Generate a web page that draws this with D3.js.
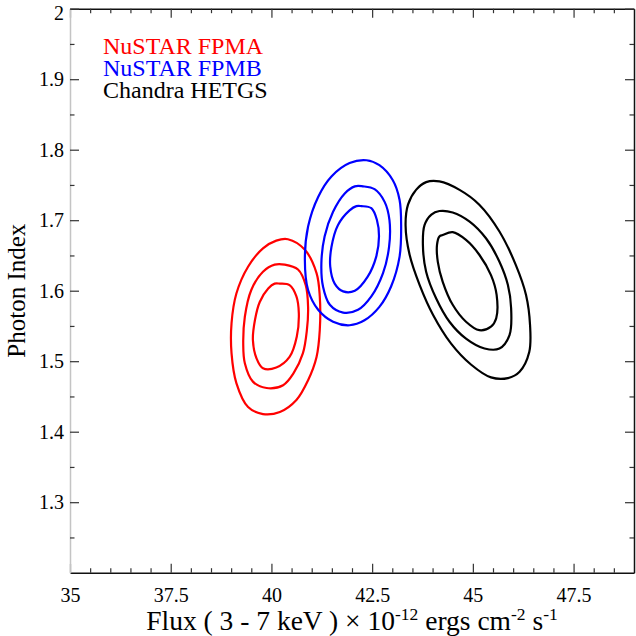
<!DOCTYPE html>
<html lang="en">
<head>
    <meta charset="UTF-8">
    <title>Flux vs Photon Index contours</title>
    <script src="https://d3js.org/d3.v7.min.js"></script>
    <style>
        body { margin: 0; background: #fff; }
        svg { display: block; }
        svg text { font-family: "Liberation Serif", "DejaVu Serif", "Times New Roman", Times, serif; fill: #000; }
        .tick text { font-size: 20px; }
    </style>
</head>
<body>
    <svg width="636" height="636"></svg>

    <script>
        // Data (flux in 1e-12 erg/cm2/s, photon index)
        const seriesNames = ["NuSTAR FPMA", "NuSTAR FPMB", "Chandra HETGS"];
        const seriesColors = ["#ff0000", "#0000ff", "#000000"];

        // three confidence levels per instrument, inner to outer
        const fpmaInner = [[40.21,1.610],[40.45,1.608],[40.62,1.592],[40.68,1.568],[40.63,1.535],[40.45,1.506],[40.12,1.491],[39.79,1.490],[39.63,1.504],[39.54,1.530],[39.59,1.558],[39.71,1.584],[39.92,1.603],[40.08,1.610]];
        const fpmaMiddle = [[40.33,1.637],[40.66,1.630],[40.85,1.608],[40.91,1.577],[40.88,1.544],[40.78,1.511],[40.55,1.483],[40.29,1.466],[39.88,1.462],[39.54,1.471],[39.34,1.497],[39.30,1.525],[39.34,1.563],[39.50,1.601],[39.79,1.627],[40.08,1.637]];
        const fpmaOuter = [[40.41,1.673],[40.83,1.658],[41.12,1.625],[41.20,1.592],[41.20,1.544],[41.12,1.506],[40.91,1.473],[40.62,1.445],[40.21,1.428],[39.79,1.425],[39.42,1.435],[39.13,1.469],[39.01,1.511],[39.01,1.554],[39.13,1.596],[39.42,1.634],[39.79,1.660],[40.12,1.671]];

        const fpmbInner = [[42.23,1.720],[42.48,1.717],[42.62,1.700],[42.67,1.677],[42.60,1.648],[42.39,1.620],[42.07,1.600],[41.78,1.599],[41.57,1.610],[41.46,1.634],[41.49,1.662],[41.65,1.693],[41.94,1.714],[42.11,1.720]];
        const fpmbMiddle = [[42.27,1.748],[42.56,1.744],[42.81,1.726],[42.93,1.700],[42.92,1.662],[42.77,1.625],[42.48,1.592],[42.15,1.573],[41.78,1.569],[41.45,1.580],[41.28,1.606],[41.24,1.639],[41.32,1.677],[41.53,1.712],[41.82,1.738],[42.07,1.748]];
        const fpmbOuter = [[42.36,1.785],[42.68,1.778],[43.01,1.757],[43.18,1.729],[43.22,1.691],[43.18,1.648],[42.97,1.606],[42.68,1.577],[42.31,1.558],[41.94,1.551],[41.53,1.556],[41.16,1.573],[40.91,1.601],[40.83,1.644],[40.91,1.691],[41.16,1.733],[41.49,1.762],[41.94,1.781]];

        const hetgsInner = [[44.25,1.679],[44.50,1.683],[44.83,1.672],[45.16,1.651],[45.45,1.622],[45.59,1.594],[45.58,1.561],[45.45,1.549],[45.16,1.544],[44.83,1.556],[44.50,1.580],[44.25,1.613],[44.13,1.641],[44.11,1.665],[44.17,1.677]];
        const hetgsMiddle = [[44.17,1.713],[44.50,1.711],[44.92,1.698],[45.33,1.674],[45.66,1.641],[45.87,1.608],[45.95,1.575],[45.91,1.537],[45.66,1.518],[45.29,1.518],[44.83,1.532],[44.42,1.556],[44.09,1.589],[43.84,1.627],[43.76,1.665],[43.80,1.693],[43.97,1.708]];
        const hetgsOuter = [[43.84,1.754],[44.17,1.755],[44.67,1.743],[45.16,1.722],[45.66,1.684],[46.07,1.636],[46.32,1.594],[46.42,1.551],[46.40,1.513],[46.16,1.485],[45.87,1.476],[45.45,1.477],[44.96,1.495],[44.46,1.525],[44.01,1.566],[43.68,1.608],[43.43,1.651],[43.33,1.693],[43.39,1.722],[43.59,1.743]];

        const xTicks = [35, 37.5, 40, 42.5, 45, 47.5];
        const xTickLabels = ["35", "37.5", "40", "42.5", "45", "47.5"];
        const yTicks = [1.3, 1.4, 1.5, 1.6, 1.7, 1.8, 1.9, 2.0];
        const yTickLabels = ["1.3", "1.4", "1.5", "1.6", "1.7", "1.8", "1.9", "2"];
        const xMinor = [35.5, 36, 36.5, 37, 38, 38.5, 39, 39.5, 40.5, 41, 41.5, 42, 43, 43.5, 44, 44.5, 45.5, 46, 46.5, 47, 48, 48.5];
        const yMinor = [1.25, 1.35, 1.45, 1.55, 1.65, 1.75, 1.85, 1.95];

        const contours = [
            { series: 0, points: fpmaInner }, { series: 0, points: fpmaMiddle }, { series: 0, points: fpmaOuter },
            { series: 1, points: fpmbInner }, { series: 1, points: fpmbMiddle }, { series: 1, points: fpmbOuter },
            { series: 2, points: hetgsInner }, { series: 2, points: hetgsMiddle }, { series: 2, points: hetgsOuter }
        ];

        const width = 636;
        const height = 636;
        const margin = { top: 8.7, right: 2, bottom: 63.3, left: 70 };

        const svg = d3.select("svg");

        const x = d3.scaleLinear()
            .domain([35, 49])
            .range([margin.left, width - margin.right]);

        const y = d3.scaleLinear()
            .domain([1.2, 2.0])
            .range([height - margin.bottom, margin.top]);

        const major = 9, minor = 4.5;

        // bottom axis (labels, inward ticks)
        const gx = svg.append("g")
            .attr("transform", `translate(0, ${y(1.2)})`)
            .call(d3.axisBottom(x).tickValues(xTicks)
                .tickFormat((d, i) => xTickLabels[i])
                .tickSize(-major).tickSizeOuter(0).tickPadding(15));
        gx.append("g").attr("class", "minor")
            .call(d3.axisBottom(x).tickValues(xMinor).tickFormat("").tickSize(-minor).tickSizeOuter(0));

        // top axis
        const gxt = svg.append("g")
            .attr("transform", `translate(0, ${y(2.0)})`)
            .call(d3.axisTop(x).tickValues(xTicks).tickFormat("").tickSize(-major).tickSizeOuter(0));
        gxt.append("g").attr("class", "minor")
            .call(d3.axisTop(x).tickValues(xMinor).tickFormat("").tickSize(-minor).tickSizeOuter(0));

        // left axis
        const gy = svg.append("g")
            .attr("transform", `translate(${x(35)}, 0)`)
            .call(d3.axisLeft(y).tickValues(yTicks)
                .tickFormat((d, i) => yTickLabels[i])
                .tickSize(-major).tickSizeOuter(0).tickPadding(6));
        gy.append("g").attr("class", "minor")
            .call(d3.axisLeft(y).tickValues(yMinor).tickFormat("").tickSize(-minor).tickSizeOuter(0));
        // top label sits just inside the figure
        gy.selectAll(".tick text").filter(d => d === 2.0).attr("dy", "0.55em");

        // right axis
        const gyr = svg.append("g")
            .attr("transform", `translate(${x(49)}, 0)`)
            .call(d3.axisRight(y).tickValues(yTicks).tickFormat("").tickSize(-major).tickSizeOuter(0));
        gyr.append("g").attr("class", "minor")
            .call(d3.axisRight(y).tickValues(yMinor).tickFormat("").tickSize(-minor).tickSizeOuter(0));

        svg.selectAll(".domain").attr("stroke", "#111").attr("stroke-width", 1.5);
        svg.selectAll(".minor .domain").attr("stroke", "none");
        gy.select(".domain").attr("stroke", "#c4c4c4");
        svg.selectAll(".tick line").attr("stroke", "#333").attr("stroke-width", 1.2);
        svg.selectAll("g").attr("font-family", null);

        // contours
        const line = d3.line()
            .x(d => x(d[0]))
            .y(d => y(d[1]))
            .curve(d3.curveCatmullRomClosed.alpha(0.5));

        svg.append("g")
            .selectAll("path")
            .data(contours)
            .join("path")
            .attr("d", d => line(d.points))
            .attr("fill", "none")
            .attr("stroke", d => seriesColors[d.series])
            .attr("stroke-width", 2.2);

        // legend
        svg.append("g")
            .selectAll("text")
            .data(seriesNames)
            .join("text")
            .attr("x", 103)
            .attr("y", (d, i) => 53.5 + i * 22)
            .attr("font-size", 24)
            .style("fill", (d, i) => seriesColors[i])
            .text(d => d);

        // axis titles
        const xt = svg.append("text")
            .attr("x", (x(35) + x(49)) / 2)
            .attr("y", 630)
            .attr("text-anchor", "middle")
            .attr("font-size", 27.5);
        xt.append("tspan").text("Flux ( 3 - 7 keV ) \u00d7 10");
        xt.append("tspan").attr("dy", -10).attr("font-size", 17.5).text("-12");
        xt.append("tspan").attr("dy", 10).text(" ergs cm");
        xt.append("tspan").attr("dy", -10).attr("font-size", 17.5).text("-2");
        xt.append("tspan").attr("dy", 10).text(" s");
        xt.append("tspan").attr("dy", -10).attr("font-size", 17.5).text("-1");

        svg.append("text")
            .attr("transform", `translate(25, ${(y(1.2) + y(2.0)) / 2}) rotate(-90)`)
            .attr("text-anchor", "middle")
            .attr("font-size", 25)
            .text("Photon Index");
    </script>
</body>
</html>
